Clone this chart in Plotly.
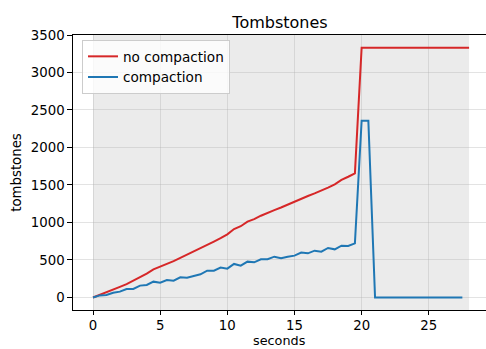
import plotly.graph_objects as go

# time axis (seconds), 0.5 s sampling
t_no = [i * 0.5 for i in range(57)]          # 0 .. 28.0
t_c = [i * 0.5 for i in range(56)]           # 0 .. 27.5

no_compaction = [
    0, 38, 68, 105, 142, 178, 225, 268, 318, 375,
    411, 445, 485, 528, 570, 611, 655, 700, 745, 790,
    842, 913, 950, 1011, 1045, 1090, 1131, 1165, 1200, 1240,
    1278, 1315, 1353, 1388, 1424, 1465, 1509, 1567, 1610, 1656,
    3330, 3330, 3330, 3330, 3330, 3330, 3330, 3330, 3330, 3330,
    3330, 3330, 3330, 3330, 3330, 3330, 3330,
]

compaction = [
    0, 28, 33, 64, 78, 113, 113, 158, 167, 211,
    198, 233, 224, 269, 264, 291, 309, 358, 358, 398,
    384, 447, 424, 478, 469, 509, 509, 544, 522, 544,
    558, 598, 589, 624, 611, 660, 642, 691, 687, 722,
    2357, 2357, 0, 0, 0, 0, 0, 0, 0, 0,
    0, 0, 0, 0, 0, 0,
]

x_ticks = [0, 5, 10, 15, 20, 25]
y_ticks = [0, 500, 1000, 1500, 2000, 2500, 3000, 3500]
shade_span = [0, 28]

font = "DejaVu Sans"

fig = go.Figure()
fig.add_trace(go.Scatter(x=t_no, y=no_compaction, mode="lines", name="no compaction",
                         line=dict(color="#d62728", width=2)))
fig.add_trace(go.Scatter(x=t_c, y=compaction, mode="lines", name="compaction",
                         line=dict(color="#1f77b4", width=2)))

fig.add_shape(type="rect", xref="x", yref="paper", x0=shade_span[0], x1=shade_span[1],
              y0=0, y1=1, fillcolor="#ebebeb", line=dict(width=0), layer="below")

# x-axis title placed as annotation near the bottom edge
fig.add_annotation(text="seconds", xref="paper", yref="paper", x=0.5, y=0,
                   xanchor="center", yanchor="bottom", yshift=-39, showarrow=False,
                   borderpad=0, font=dict(family=font, size=12.8, color="black"))

axis_common = dict(
    showline=True, linecolor="black", linewidth=1, mirror=True,
    ticks="outside", tickwidth=1, tickcolor="black",
    showgrid=True, gridcolor="rgba(176,176,176,0.35)", gridwidth=1,
    zeroline=False, tickfont=dict(family=font, size=13.3, color="black"),
)

fig.update_layout(
    width=486, height=349,
    margin=dict(l=73, r=0, t=35, b=39, autoexpand=False),
    paper_bgcolor="white", plot_bgcolor="white",
    title=dict(text="Tombstones", x=280 / 486, xanchor="center", y=1 - 22 / 349,
               yanchor="middle", font=dict(family=font, size=16, color="black")),
    xaxis=dict(range=[-1.49, 29.26], tickvals=x_ticks, automargin=False, ticklen=3.5,
               **axis_common),
    yaxis=dict(range=[-167, 3500], tickvals=y_ticks, automargin=False, ticklen=4.7,
               title=dict(text="tombstones", standoff=6,
                          font=dict(family=font, size=13.3, color="black")),
               **axis_common),
    legend=dict(x=(82 - 73) / 413, y=(310 - 40) / 275, xanchor="left", yanchor="top",
                bgcolor="rgba(255,255,255,0.8)", bordercolor="#cccccc", borderwidth=1,
                itemwidth=30, font=dict(family=font, size=13.6, color="black"),
                tracegroupgap=0),
    showlegend=True,
)

fig.write_html("out.html", config={"displayModeBar": False},
               post_script="document.body.style.margin='0';document.body.style.overflow='hidden';")
